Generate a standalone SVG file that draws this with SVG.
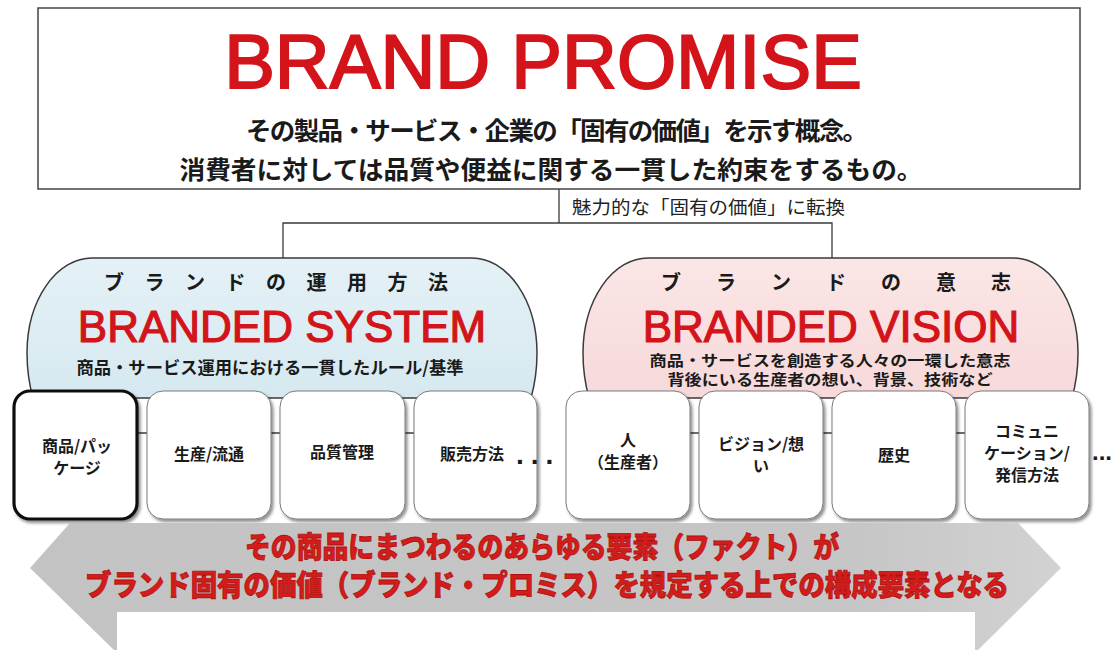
<svg xmlns="http://www.w3.org/2000/svg" width="1114" height="650" viewBox="0 0 1114 650">
<defs>
<filter id="sh" x="-10%" y="-10%" width="130%" height="130%">
<feDropShadow dx="2" dy="2.5" stdDeviation="1.5" flood-color="#000" flood-opacity="0.45"/>
</filter>
<linearGradient id="blue" x1="0" y1="0" x2="0" y2="1">
<stop offset="0" stop-color="#e4f1f6"/><stop offset="1" stop-color="#d6e9f0"/>
</linearGradient>
<linearGradient id="pink" x1="0" y1="0" x2="0" y2="1">
<stop offset="0" stop-color="#fbe6e6"/><stop offset="1" stop-color="#f7d9da"/>
</linearGradient>
<linearGradient id="gray" x1="0" y1="0" x2="1" y2="0">
<stop offset="0" stop-color="#c3c3c3"/><stop offset="0.8" stop-color="#c6c6c6"/><stop offset="1" stop-color="#d2d2d2"/>
</linearGradient>
</defs>
<style>
.jp{font-family:"Noto Sans CJK JP","Noto Sans CJK SC",sans-serif;font-weight:bold;fill:#1a1a1a}
.en{font-family:"Liberation Sans",Arial,sans-serif;fill:#d3141a;stroke:#d3141a}
.box{fill:#fff;stroke:#7a7a7a;stroke-width:1;filter:url(#sh)}
.line{fill:none;stroke:#3a3a3a;stroke-width:1.3}
.bt{font-size:16px;text-anchor:middle}
.dots{font-family:"Liberation Sans",Arial,sans-serif;font-weight:bold;font-size:28px;fill:#1a1a1a;letter-spacing:7px}
.red{font-family:"Noto Sans CJK JP","Noto Sans CJK SC",sans-serif;font-weight:900;fill:#d41d1a;stroke:#b01010;stroke-width:0.8;text-anchor:middle;font-size:29px}
</style>

<g id="promise">
<rect x="38" y="8" width="1042" height="181" fill="#fff" stroke="#444" stroke-width="1.5"/>
<text class="en" x="543" y="88" font-size="76" stroke-width="2" text-anchor="middle">BRAND PROMISE</text>
<text class="jp" x="557" y="140" font-size="25.5" text-anchor="middle" textLength="622" lengthAdjust="spacing">その製品・サービス・企業の「固有の価値」を示す概念。</text>
<text class="jp" x="551" y="179" font-size="25.5" text-anchor="middle" textLength="743" lengthAdjust="spacingAndGlyphs">消費者に対しては品質や便益に関する一貫した約束をするもの。</text>
</g>

<g id="connectors">
<polyline class="line" points="559,189 559,223"/>
<polyline class="line" points="283,258 283,223 832,223 832,258"/>
<text class="jp" x="572" y="214" font-size="18.5" textLength="273" lengthAdjust="spacingAndGlyphs" style="font-weight:normal;fill:#222">魅力的な「固有の価値」に転換</text>
<line class="line" x1="14" y1="433" x2="537" y2="433" stroke="#666"/>
<line class="line" x1="566" y1="433" x2="1089" y2="433" stroke="#666"/>
</g>

<g id="system">
<path d="M33,398 C28,380 27,365 27,353 A65,95 0 0 1 92,258 L472,258 A65,95 0 0 1 537,353 C537,365 536,380 531,398 Z" fill="url(#blue)" stroke="#3a3a3a" stroke-width="1.5"/>
<text class="jp" x="104" y="290" font-size="20" letter-spacing="20.5">ブランドの運用方法</text>
<text class="en" x="282" y="342" font-size="44" stroke-width="1.2" text-anchor="middle">BRANDED SYSTEM</text>
<text class="jp" x="270" y="374" font-size="17" text-anchor="middle" textLength="387" lengthAdjust="spacingAndGlyphs">商品・サービス運用における一貫したルール/基準</text>
</g>

<g id="vision">
<path d="M589,398 C584,380 583,365 583,353 A65,95 0 0 1 648,258 L1013,258 A65,95 0 0 1 1078,353 C1078,365 1077,380 1072,398 Z" fill="url(#pink)" stroke="#3a3a3a" stroke-width="1.5"/>
<text class="jp" x="661" y="290" font-size="20" letter-spacing="35">ブランドの意志</text>
<text class="en" x="831" y="342" font-size="44" stroke-width="1.2" text-anchor="middle">BRANDED VISION</text>
<text class="jp" x="830" y="366" font-size="15" text-anchor="middle" textLength="361" lengthAdjust="spacingAndGlyphs">商品・サービスを創造する人々の一環した意志</text>
<text class="jp" x="830" y="385" font-size="15" text-anchor="middle" textLength="325" lengthAdjust="spacingAndGlyphs">背後にいる生産者の想い、背景、技術など</text>
</g>

<g id="box1">
<rect x="14" y="391" width="123" height="128" rx="16" fill="#fff" stroke="#111" stroke-width="3.2" filter="url(#sh)"/>
<text class="jp bt" x="77" y="452">商品/パッ</text>
<text class="jp bt" x="77" y="474">ケージ</text>
</g>
<g id="box2">
<rect class="box" x="147" y="391" width="124" height="128" rx="16"/>
<text class="jp bt" x="209" y="460">生産/流通</text>
</g>
<g id="box3">
<rect class="box" x="280" y="391" width="125" height="128" rx="16"/>
<text class="jp bt" x="342" y="458">品質管理</text>
</g>
<g id="box4">
<rect class="box" x="414" y="391" width="123" height="128" rx="16"/>
<text class="jp bt" x="472" y="460">販売方法</text>
<text class="dots" x="516" y="464">...</text>
</g>

<g id="box5">
<rect class="box" x="566" y="391" width="124" height="128" rx="16"/>
<text class="jp bt" x="628" y="446">人</text>
<text class="jp bt" x="628" y="468">（生産者）</text>
</g>
<g id="box6">
<rect class="box" x="699" y="391" width="124" height="128" rx="16"/>
<text class="jp bt" x="761" y="450">ビジョン/想</text>
<text class="jp bt" x="761" y="472">い</text>
</g>
<g id="box7">
<rect class="box" x="832" y="391" width="124" height="128" rx="16"/>
<text class="jp bt" x="894" y="461">歴史</text>
</g>
<g id="box8">
<rect class="box" x="965" y="391" width="124" height="128" rx="16"/>
<text class="jp bt" x="1027" y="437">コミュニ</text>
<text class="jp bt" x="1027" y="459">ケーション/</text>
<text class="jp bt" x="1027" y="481">発信方法</text>
<text class="dots" x="1092" y="460" style="letter-spacing:0px;font-size:24px">...</text>
</g>

<g id="arrow">
<polygon points="70,523 1018,523 1061,568 976,652 116,652 30,568" fill="url(#gray)"/>
<rect x="117" y="612" width="858" height="40" fill="#fff"/>
<text class="red" x="542" y="558" textLength="594" lengthAdjust="spacingAndGlyphs">その商品にまつわるのあらゆる要素（ファクト）が</text>
<text class="red" x="547" y="596" textLength="924" lengthAdjust="spacingAndGlyphs">ブランド固有の価値（ブランド・プロミス）を規定する上での構成要素となる</text>
</g>
</svg>
